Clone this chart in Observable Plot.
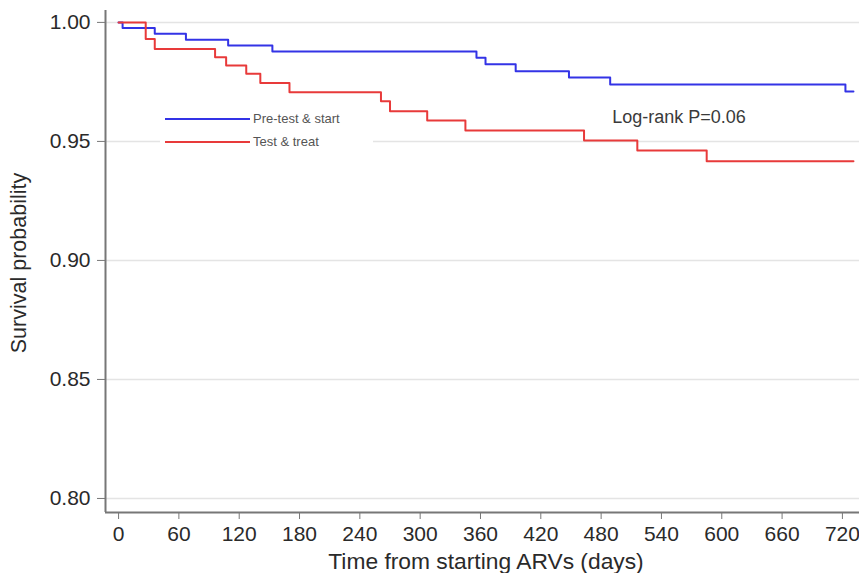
<!DOCTYPE html>
<html>
<head>
<meta charset="utf-8">
<script src="https://cdn.jsdelivr.net/npm/d3@7"></script>
<script src="https://cdn.jsdelivr.net/npm/@observablehq/plot@0.6"></script>
<style>
  html, body { margin: 0; padding: 0; background: #fff; }
  #wrap { position: relative; width: 859px; height: 573px; overflow: hidden; font-family: "Liberation Sans", Arial, sans-serif; }
  #wrap svg { position: absolute; left: 0; top: 0; }
  .lab { position: absolute; color: #2a2a2a; white-space: nowrap; }
  #legend { position: absolute; left: 160px; top: 108px; width: 213px; height: 46px; background: #fff; }
  .lg { position: absolute; left: 5px; height: 0; width: 85px; border-top: 2px solid; }
  .lt { position: absolute; left: 93px; font-size: 13px; color: #555; white-space: nowrap; line-height: 13px; }
</style>
</head>
<body>
<div id="wrap"></div>
<script>
// Series: Kaplan–Meier step curves (day, survival probability)
const preTestDays = [0, 4, 36, 67, 109, 153, 356, 365, 395, 448, 489, 723, 731];
const preTestSurv = [1.0, 0.9976, 0.9952, 0.9927, 0.9903, 0.9878, 0.9852, 0.9824, 0.9795, 0.9768, 0.9739, 0.9710, 0.9710];
const testTreatDays = [0, 27, 36, 96, 107, 127, 141, 170, 261, 270, 307, 345, 463, 516, 585, 731];
const testTreatSurv = [1.0, 0.9930, 0.9888, 0.9854, 0.9819, 0.9784, 0.9745, 0.9707, 0.9669, 0.9627, 0.9588, 0.9546, 0.9504, 0.9462, 0.9417, 0.9417];
const seriesNames = ["Pre-test & start", "Test & treat"];
const seriesColors = ["#3333e6", "#e83a3a"];
const xTicks = [0, 60, 120, 180, 240, 300, 360, 420, 480, 540, 600, 660, 720];
const yTicks = [0.80, 0.85, 0.90, 0.95, 1.00];
const xDomain = [-13, 737];
const yDomain = [0.7941, 1.005];
const annotations = [{day: 491, surv: 0.9603, text: "Log-rank P=0.06"}];
const xTitle = "Time from starting ARVs (days)";
const yTitle = "Survival probability";

const rows = [
  ...preTestDays.map((d, i) => ({day: d, surv: preTestSurv[i], group: seriesNames[0]})),
  ...testTreatDays.map((d, i) => ({day: d, surv: testTreatSurv[i], group: seriesNames[1]}))
];

const chart = Plot.plot({
  width: 859,
  height: 573,
  marginTop: 10,
  marginRight: 0,
  marginBottom: 61,
  marginLeft: 105,
  style: {fontFamily: '"Liberation Sans", Arial, sans-serif', background: "#fff", overflow: "visible"},
  x: {domain: xDomain},
  y: {domain: yDomain},
  color: {domain: seriesNames, range: seriesColors},
  marks: [
    Plot.gridY(yTicks, {stroke: "#e4e4e4", strokeOpacity: 1, strokeWidth: 1.5}),
    Plot.line(rows, {x: "day", y: "surv", z: "group", stroke: "group", curve: "step-after", strokeWidth: 2}),
    Plot.ruleX([xDomain[0]], {stroke: "#777", strokeWidth: 2}),
    Plot.ruleY([yDomain[0]], {stroke: "#777", strokeWidth: 2}),
    Plot.axisY(yTicks, {tickFormat: d => d.toFixed(2), tickSize: 8, tickPadding: 7, fontSize: 21, label: null, stroke: "#777", color: "#2a2a2a"}),
    Plot.axisX(xTicks, {tickFormat: d => String(d), tickSize: 7, tickPadding: 7, fontSize: 21, label: null, stroke: "#777", color: "#2a2a2a"}),
    Plot.text(annotations, {x: "day", y: "surv", text: "text", textAnchor: "start", fontSize: 18, fill: "#3a3a3a"})
  ]
});

const wrap = document.getElementById("wrap");
wrap.appendChild(chart);

// Legend (white box over the plot area)
const legend = document.createElement("div");
legend.id = "legend";
seriesNames.forEach((name, i) => {
  const top = i === 0 ? 10 : 32.5;
  const ln = document.createElement("div");
  ln.className = "lg";
  ln.style.top = (top) + "px";
  ln.style.borderTopColor = seriesColors[i];
  legend.appendChild(ln);
  const t = document.createElement("div");
  t.className = "lt";
  t.style.top = (top - 6) + "px";
  t.textContent = name;
  legend.appendChild(t);
});
wrap.appendChild(legend);

// Axis titles
const xl = document.createElement("div");
xl.className = "lab";
xl.textContent = xTitle;
xl.style.fontSize = "22.8px";
xl.style.left = "486px";
xl.style.top = "561px";
xl.style.transform = "translate(-50%, -50%)";
wrap.appendChild(xl);

const yl = document.createElement("div");
yl.className = "lab";
yl.textContent = yTitle;
yl.style.fontSize = "21.5px";
yl.style.left = "19px";
yl.style.top = "263px";
yl.style.transform = "translate(-50%, -50%) rotate(-90deg)";
wrap.appendChild(yl);
</script>
</body>
</html>
